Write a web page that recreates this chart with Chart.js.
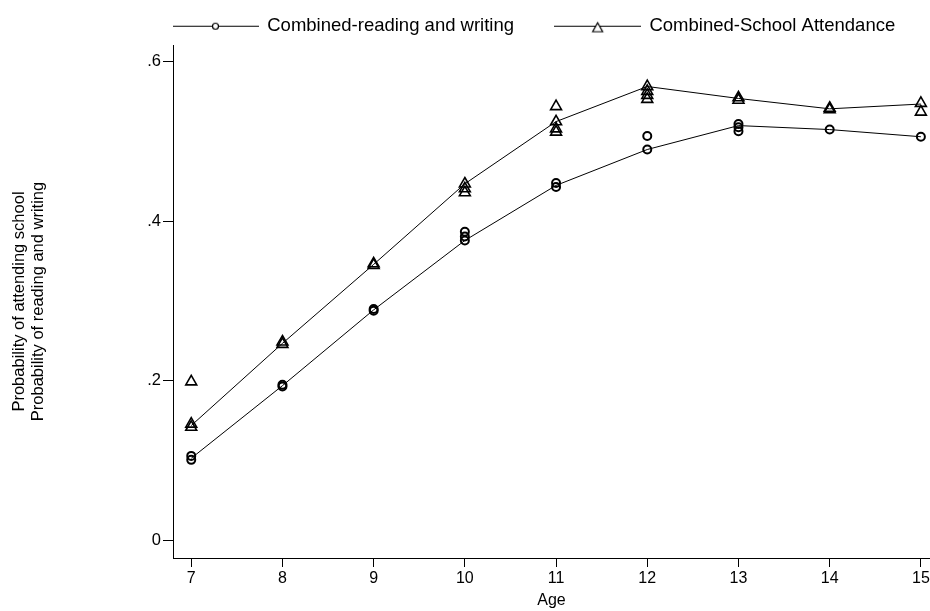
<!DOCTYPE html>
<html>
<head>
<meta charset="utf-8">
<script src="https://cdn.jsdelivr.net/npm/chart.js@4.4.0/dist/chart.umd.min.js"></script>
<style>
  html, body { margin: 0; padding: 0; background: #fff; }
</style>
</head>
<body>
<canvas id="chart" width="930" height="611"></canvas>
<script>
// -----------------------------
// Data
// -----------------------------
const ages = [7, 8, 9, 10, 11, 12, 13, 14, 15];
const readingLine = [0.103, 0.194, 0.289, 0.376, 0.445, 0.490, 0.520, 0.515, 0.506];
const schoolLine = [0.144, 0.247, 0.346, 0.447, 0.525, 0.569, 0.554, 0.541, 0.547];

// individual markers (several per age, overlapping)
const readingObsAge = [7, 7, 8, 8, 9, 9, 10, 10, 10, 11, 11, 12, 12, 13, 13, 13, 14, 15];
const readingObsVal = [0.101, 0.106, 0.193, 0.195, 0.288, 0.290, 0.376, 0.381, 0.387, 0.443, 0.448, 0.490, 0.507, 0.513, 0.518, 0.522, 0.515, 0.506];
const schoolObsAge = [7, 7, 7, 8, 8, 9, 9, 10, 10, 10, 11, 11, 11, 11, 12, 12, 12, 12, 13, 13, 14, 14, 15, 15];
const schoolObsVal = [0.142, 0.146, 0.199, 0.246, 0.249, 0.345, 0.347, 0.436, 0.441, 0.447, 0.512, 0.516, 0.525, 0.544, 0.553, 0.558, 0.563, 0.569, 0.552, 0.555, 0.540, 0.542, 0.537, 0.548];

const yTicks = [0, 0.2, 0.4, 0.6];
const seriesNames = ['Combined-reading and writing', 'Combined-School Attendance'];
const yTitle = ['Probability of attending school', 'Probability of reading and writing'];
const xTitle = 'Age';

Chart.defaults.font.family = '"Liberation Sans", Arial, Helvetica, sans-serif';
Chart.defaults.color = '#000';

// legend sample: line with marker in the middle
const legendSample = (marker) => {
  const c = document.createElement('canvas');
  c.width = 87;
  c.height = 24;
  const g = c.getContext('2d');
  g.strokeStyle = '#000';
  g.lineWidth = 1;
  g.beginPath();
  g.moveTo(0, 12.5);
  g.lineTo(87, 12.5);
  g.stroke();
  g.fillStyle = '#fff';
  g.lineWidth = 1.2;
  g.beginPath();
  if (marker === 'circle') {
    g.arc(43.5, 12.5, 3, 0, Math.PI * 2);
  } else {
    g.moveTo(43.5, 9);
    g.lineTo(48.5, 18);
    g.lineTo(38.5, 18);
    g.closePath();
  }
  g.fill();
  g.stroke();
  return c;
};
const legendImages = [legendSample('circle'), legendSample('triangle')];

const toPoints = (xs, ys) => xs.map((x, i) => ({ x: x, y: ys[i] }));

const ctx = document.getElementById('chart').getContext('2d');

new Chart(ctx, {
  type: 'scatter',
  data: {
    datasets: [
      {
        type: 'line',
        label: seriesNames[0],
        data: toPoints(ages, readingLine),
        borderColor: '#000',
        borderWidth: 1,
        pointRadius: 0,
        tension: 0,
        fill: false
      },
      {
        type: 'line',
        label: seriesNames[1],
        data: toPoints(ages, schoolLine),
        borderColor: '#000',
        borderWidth: 1,
        pointRadius: 0,
        tension: 0,
        fill: false
      },
      {
        label: 'reading obs',
        data: toPoints(readingObsAge, readingObsVal),
        pointStyle: 'circle',
        pointRadius: 4,
        borderColor: '#000',
        backgroundColor: 'rgba(0,0,0,0)',
        borderWidth: 2
      },
      {
        label: 'school obs',
        data: toPoints(schoolObsAge, schoolObsVal),
        pointStyle: 'triangle',
        pointRadius: 6.3,
        borderColor: '#000',
        backgroundColor: 'rgba(0,0,0,0)',
        borderWidth: 1.6
      }
    ]
  },
  options: {
    responsive: false,
    animation: false,
    devicePixelRatio: 1,
    layout: { autoPadding: false, padding: { top: 11, left: 0, right: 0, bottom: 0 } },
    plugins: {
      tooltip: { enabled: false },
      legend: {
        position: 'top',
        align: 'start',
        fullSize: false,
        labels: {
          usePointStyle: true,
          pointStyleWidth: 85,
          padding: 0,
          color: '#000',
          font: { size: 18.5 },
          generateLabels: () => seriesNames.map((name, i) => ({
            // trailing blanks give the gap between the two keys
            text: i === 0 ? name + '        ' : name,
            pointStyle: legendImages[i],
            fillStyle: '#fff',
            strokeStyle: '#000',
            lineWidth: 0,
            hidden: false,
            datasetIndex: i
          }))
        }
      }
    },
    scales: {
      x: {
        type: 'linear',
        min: 6.8,
        max: 15.1,
        afterBuildTicks: s => { s.ticks = ages.map(v => ({ value: v })); },
        afterFit: s => { s.height = 53; s.paddingLeft = 0; s.paddingRight = 0; },
        grid: { drawOnChartArea: false, drawTicks: true, tickLength: 9, color: '#000' },
        border: { display: true, color: '#000', width: 1 },
        ticks: { color: '#000', font: { size: 16 }, padding: 2, maxRotation: 0, autoSkip: false },
        title: {
          display: true,
          text: xTitle,
          color: '#000',
          font: { size: 16 },
          padding: { top: 0, bottom: 1 }
        }
      },
      y: {
        type: 'linear',
        min: -0.022,
        max: 0.621,
        afterBuildTicks: s => { s.ticks = yTicks.map(v => ({ value: v })); },
        afterFit: s => { s.width = 173; s.paddingTop = 45; s.paddingBottom = 0; },
        grid: { drawOnChartArea: false, drawTicks: true, tickLength: 10, color: '#000' },
        border: { display: true, color: '#000', width: 1 },
        ticks: {
          color: '#000',
          font: { size: 16.5 },
          padding: 2,
          callback: v => v === 0 ? '0' : '.' + Math.round(v * 10)
        },
        title: {
          display: true,
          text: yTitle,
          color: '#000',
          font: { size: 16.5, lineHeight: 1.15 },
          padding: { top: 10, bottom: 0 }
        }
      }
    }
  }
});
</script>
</body>
</html>
